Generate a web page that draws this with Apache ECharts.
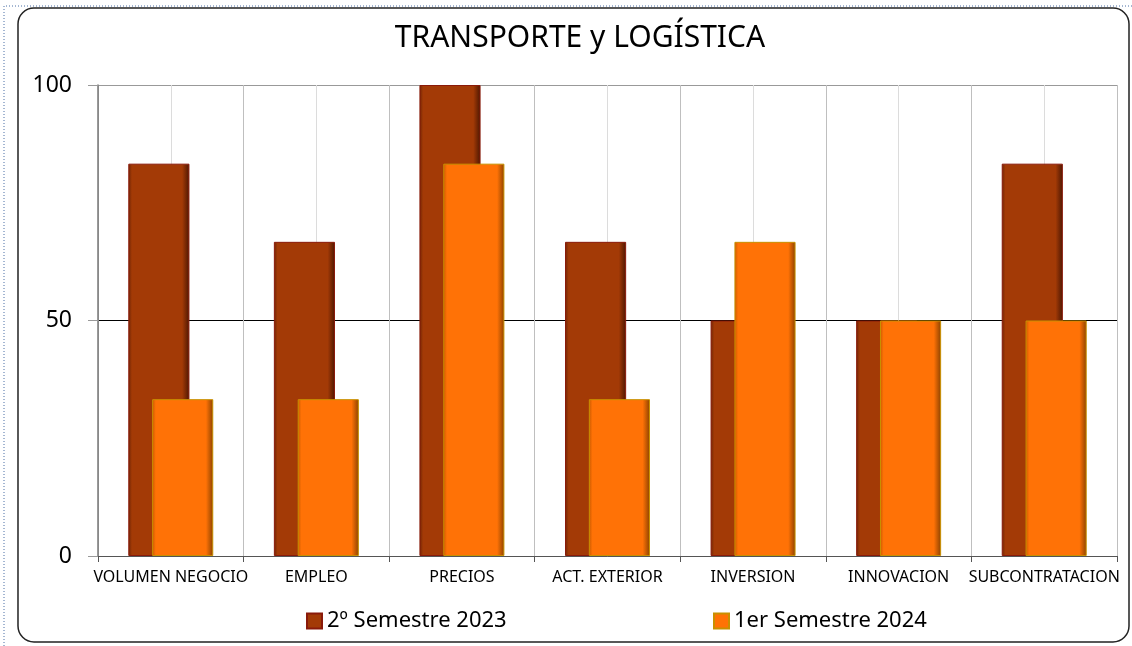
<!DOCTYPE html>
<html>
<head>
<meta charset="utf-8">
<script src="https://cdn.jsdelivr.net/npm/echarts@6/dist/echarts.min.js"></script>
<style>
  html, body { margin: 0; padding: 0; background: #fff; }
  #chart { width: 1132px; height: 646px; }
</style>
</head>
<body>
<div id="chart"></div>
<script>
// datos
const categorias = ['VOLUMEN NEGOCIO', 'EMPLEO', 'PRECIOS', 'ACT. EXTERIOR', 'INVERSION', 'INNOVACION', 'SUBCONTRATACION']
const sem2023 = [83.3, 66.7, 100, 66.7, 50, 50, 83.3]
const sem2024 = [33.3, 33.3, 83.3, 33.3, 66.7, 50, 50]
const yTicks = [0, 50, 100]

const font = '"Noto Sans", sans-serif'

// efecto bisel de las barras
function bevel(edge, main, dark) {
    return new echarts.graphic.LinearGradient(0, 0, 1, 0, [
        { offset: 0, color: edge },
        { offset: 0.06, color: main },
        { offset: 0.88, color: main },
        { offset: 1, color: dark },
    ])
}

const chart = echarts.init(document.getElementById('chart'))

const option = {
    animation: false,
    backgroundColor: '#fff',
    title: {
        text: 'TRANSPORTE y LOGÍSTICA',
        left: 575,
        textAlign: 'center',
        top: 18,
        textStyle: { fontFamily: font, fontSize: 30, fontWeight: 'normal', color: '#000' },
    },
    graphic: [
        {
            type: 'rect',
            shape: { x: 18, y: 8, width: 1111, height: 634, r: 16 },
            style: { fill: 'none', stroke: '#222', lineWidth: 1.5 },
            z: -10,
        },
        {
            type: 'polyline',
            shape: { points: [[4, 646], [4, 6], [1132, 6]] },
            style: { stroke: '#4a6fa5', lineWidth: 1, lineDash: [1, 2], fill: 'none' },
            z: -10,
        },
    ],
    legend: [
        {
            data: ['2º Semestre 2023'],
            left: 301,
            top: 605,
            itemWidth: 15,
            itemHeight: 15,
            itemGap: 6,
            icon: 'rect',
            textStyle: { fontFamily: font, fontSize: 22, color: '#000' },
        },
        {
            data: ['1er Semestre 2024'],
            left: 708,
            top: 605,
            itemWidth: 15,
            itemHeight: 15,
            itemGap: 6,
            icon: 'rect',
            textStyle: { fontFamily: font, fontSize: 22, color: '#000' },
        },
    ],
    grid: { left: 98, right: 15, top: 85, bottom: 90, containLabel: false },
    xAxis: [
        {
            type: 'category',
            data: categorias,
            boundaryGap: true,
            axisLine: { lineStyle: { color: '#555', width: 1 } },
            axisTick: { show: true, length: 6, inside: false, lineStyle: { color: '#555' } },
            axisLabel: {
                interval: 0,
                margin: 13,
                fontFamily: font,
                fontSize: 16,
                color: '#000',
            },
            splitLine: { show: false },
        },
        {
            // lineas verticales cada media categoria
            type: 'value',
            min: 0,
            max: 14,
            interval: 1,
            show: true,
            position: 'bottom',
            axisLine: { show: false },
            axisTick: { show: false },
            axisLabel: { show: false },
            splitLine: { show: true, lineStyle: { color: ['#bfbfbf', '#dcdcdc'], width: 1 } },
        },
    ],
    yAxis: {
        type: 'value',
        min: 0,
        max: 100,
        interval: 50,
        axisLine: { show: true, lineStyle: { color: '#777', width: 1.5 } },
        axisTick: { show: true, length: 10, lineStyle: { color: '#999' } },
        axisLabel: {
            fontFamily: font,
            fontSize: 23,
            color: '#000',
            margin: 26,
            formatter: v => (yTicks.includes(v) ? String(v) : ''),
        },
        splitLine: { show: true, lineStyle: { color: ['#777', '#000', '#999'], width: 1 } },
    },
    series: [
        {
            name: '2º Semestre 2023',
            type: 'bar',
            data: sem2023,
            barWidth: '42%',
            barGap: '-61%',
            itemStyle: {
                color: bevel('#6e2405', '#a33a06', '#4c1602'),
                borderColor: '#8a1a0a',
                borderWidth: 1,
            },
        },
        {
            name: '1er Semestre 2024',
            type: 'bar',
            data: sem2024,
            barWidth: '42%',
            barGap: '-61%',
            itemStyle: {
                color: bevel('#c85a00', '#ff7206', '#8a4200'),
                borderColor: '#c99000',
                borderWidth: 1,
            },
        },
    ],
}

option && chart.setOption(option)
</script>
</body>
</html>
